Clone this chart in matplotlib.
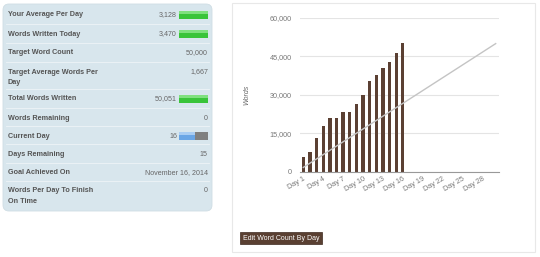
import matplotlib
matplotlib.use('Agg')
import matplotlib.pyplot as plt
from matplotlib.patches import FancyBboxPatch, Rectangle

plt.rcParams['font.family'] = ['Liberation Sans', 'DejaVu Sans']

# word counts per day (days 1-16 written so far)
days_written = list(range(1, 17))
words_written = [5850, 7570, 13040, 17960, 20960, 20960, 23190, 23190,
                 26300, 29940, 35400, 37870, 40360, 42960, 46450, 50051]

# target pace line
target_days = [1, 30]
target_words = [1667, 50000]

tick_days = list(range(1, 31, 3))
tick_labels = [f"Day {d}" for d in tick_days]
y_ticks = [0, 15000, 30000, 45000, 60000]

# stats table on the left
stat_labels = ["Your Average Per Day", "Words Written Today", "Target Word Count",
               "Target Average Words Per\nDay", "Total Words Written", "Words Remaining",
               "Current Day", "Days Remaining", "Goal Achieved On",
               "Words Per Day To Finish\nOn Time"]
stat_values = ["3,128", "3,470", "50,000", "1,667", "50,051", "0", "16", "15",
               "November 16, 2014", "0"]
stat_bar = ["green", "green", None, None, "green", None, "day", None, None, None]
row_tops = [5, 24, 43, 62, 89, 108, 126, 144, 163, 181]
row_bottoms = [24, 43, 62, 89, 108, 126, 144, 163, 181, 210]

W, H = 540, 257
fig = plt.figure(figsize=(W / 100, H / 100), dpi=100)
fig.patch.set_facecolor('white')

# overlay in pixel coordinates for panels
ov = fig.add_axes([0, 0, 1, 1])
ov.set_xlim(0, W)
ov.set_ylim(H, 0)
ov.axis('off')

panel = FancyBboxPatch((3, 4), 209, 207, boxstyle="round,pad=0,rounding_size=6",
                       facecolor='#d8e6ed', edgecolor='#cfdde4', linewidth=0.6)
ov.add_patch(panel)

for i, (lab, val) in enumerate(zip(stat_labels, stat_values)):
    top = row_tops[i]
    ty = top + 9
    ov.text(8, ty - 2.5, lab, fontsize=5.2, fontweight='bold', color='#555555',
            va='top', ha='left', linespacing=1.75)
    if stat_bar[i] is None:
        ov.text(208, ty - 2.5, val, fontsize=5.1, color='#666666', va='top', ha='right')
    else:
        ov.text(177, ty + 1, val, fontsize=5.1, color='#666666', va='center', ha='right')
        if stat_bar[i] == 'green':
            ov.add_patch(Rectangle((179, ty - 3), 29, 8, facecolor='#39c43a', edgecolor='none'))
            ov.add_patch(Rectangle((179, ty - 3), 29, 2.5, facecolor='#7fe07f', edgecolor='none'))
        else:
            ov.add_patch(Rectangle((179, ty - 3), 16, 8, facecolor='#6aa6e6', edgecolor='none'))
            ov.add_patch(Rectangle((179, ty - 3), 16, 2.5, facecolor='#a9cdf3', edgecolor='none'))
            ov.add_patch(Rectangle((195, ty - 3), 13, 8, facecolor='#808080', edgecolor='none'))
    if i < len(stat_labels) - 1:
        ov.plot([6, 209], [row_bottoms[i], row_bottoms[i]], color='#eef4f7', linewidth=0.6)

# right panel frame
ov.add_patch(Rectangle((232, 3), 303, 249, facecolor='white', edgecolor='#e8e8e8', linewidth=0.8))

# button
ov.add_patch(Rectangle((240, 232), 82, 12, facecolor='#5a4032', edgecolor='#3e2a20', linewidth=0.5))
ov.text(281, 238.5, "Edit Word Count By Day", fontsize=5.0, color='white', ha='center', va='center')

# chart
ax = fig.add_axes([300 / W, 1 - 171.7 / H, 199 / W, 153.7 / H])
ax.set_facecolor('none')
ax.bar(days_written, words_written, width=0.5, color='#5b4033', zorder=2)
ax.plot(target_days, target_words, color='#c4c4c4', linewidth=1.0, zorder=3)
ax.set_xlim(0.5, 30.5)
ax.set_ylim(0, 60000)
ax.set_yticks(y_ticks)
ax.set_yticklabels([f"{v:,}" for v in y_ticks])
ax.set_xticks(tick_days)
ax.set_xticklabels(tick_labels, rotation=30, ha='right', rotation_mode='anchor')
ax.tick_params(axis='both', length=0, labelsize=5.2, labelcolor='#777777')
ax.tick_params(axis='y', pad=6)
ax.tick_params(axis='x', pad=3)
ax.grid(axis='y', color='#e4e4e4', linewidth=0.8, zorder=0)
for s in ['top', 'right', 'left']:
    ax.spines[s].set_visible(False)
ax.spines['bottom'].set_color('#999999')
ax.spines['bottom'].set_linewidth(0.8)
ax.set_ylabel("Words", fontsize=5.0, style='italic', color='#666666', labelpad=14)

fig.savefig('out.png', dpi=100)
